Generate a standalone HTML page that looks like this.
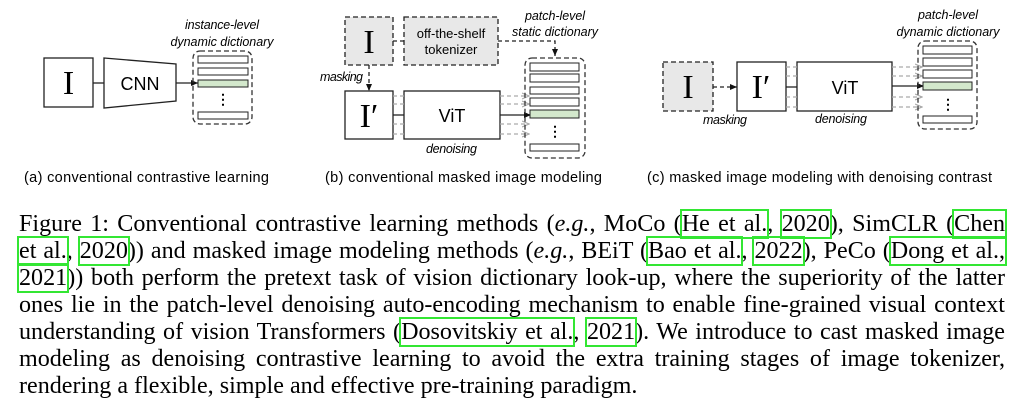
<!DOCTYPE html>
<html><head><meta charset="utf-8"><style>
html,body{margin:0;padding:0;background:#fff;width:1022px;height:412px;overflow:hidden;position:relative}
svg{position:absolute;left:0;top:0}
.cap{position:absolute;left:19px;width:986px;font-family:"Liberation Serif",serif;font-size:24.1px;line-height:27px;white-space:nowrap;text-align:justify;text-align-last:justify;color:#000}
.cap.last{text-align-last:left}
.c{outline:2px solid #33e633;outline-offset:0px}
</style></head><body>
<svg width="1022" height="200" font-family="Liberation Sans, sans-serif">
<defs>
<marker id="ab" markerWidth="8" markerHeight="8" refX="7" refY="4" orient="auto" markerUnits="userSpaceOnUse"><path d="M0,1 L7,4 L0,7 z" fill="#111"/></marker>
<marker id="ag" markerWidth="8" markerHeight="8" refX="7" refY="4" orient="auto" markerUnits="userSpaceOnUse"><path d="M0,1 L7,4 L0,7" fill="none" stroke="#aaa" stroke-width="1.2"/></marker>
</defs>
<g>
<rect x="44" y="58" width="49" height="49" fill="#fff" stroke="#222" stroke-width="1.3"/>
<text x="68.5" y="94" font-family="Liberation Serif, serif" font-size="34" text-anchor="middle">I</text>
<line x1="93" y1="83" x2="104" y2="83" stroke="#222" stroke-width="1.3"/>
<polygon points="104,58 176,64 176,101 104,108" fill="#fff" stroke="#222" stroke-width="1.3"/>
<text x="140" y="90" font-size="18" text-anchor="middle">CNN</text>
<line x1="176" y1="83" x2="198" y2="83" stroke="#222" stroke-width="1.3" marker-end="url(#ab)"/>
<rect x="193" y="51" width="59" height="73" rx="7" fill="none" stroke="#333" stroke-width="1.3" stroke-dasharray="5,3"/>
<rect x="198" y="56" width="50" height="7" fill="#fff" stroke="#222"/>
<rect x="198" y="68" width="50" height="7" fill="#fff" stroke="#222"/>
<rect x="198" y="80" width="50" height="7" fill="#d3e8cc" stroke="#222"/>
<text x="223" y="104" font-size="14" text-anchor="middle" font-weight="bold">&#8942;</text>
<rect x="198" y="112" width="50" height="7" fill="#fff" stroke="#222"/>
<text x="222" y="29" font-size="12.5" font-style="italic" text-anchor="middle" textLength="74">instance-level</text>
<text x="222" y="46" font-size="12.5" font-style="italic" text-anchor="middle" textLength="103">dynamic dictionary</text>
<text x="24" y="182" font-size="14.5" textLength="245">(a) conventional contrastive learning</text>
</g>
<g>
<rect x="345" y="17" width="48" height="48" fill="#e8e8e8" stroke="#222" stroke-width="1.3" stroke-dasharray="5,3"/>
<text x="369" y="53" font-family="Liberation Serif, serif" font-size="34" text-anchor="middle">I</text>
<rect x="404" y="17" width="94" height="48" fill="#e8e8e8" stroke="#222" stroke-width="1.3" stroke-dasharray="5,3"/>
<text x="451" y="38" font-size="13" text-anchor="middle">off-the-shelf</text>
<text x="451" y="54" font-size="13" text-anchor="middle">tokenizer</text>
<line x1="393" y1="41" x2="404" y2="41" stroke="#222" stroke-width="1.3" stroke-dasharray="4,3"/>
<polyline points="498,41 555,41 555,56" fill="none" stroke="#222" stroke-width="1.3" stroke-dasharray="4,3" marker-end="url(#ab)"/>
<line x1="369" y1="65" x2="369" y2="91" stroke="#222" stroke-width="1.3" stroke-dasharray="4,3" marker-end="url(#ab)"/>
<text x="320" y="81" font-size="12.5" font-style="italic" textLength="43">masking</text>
<rect x="345" y="91" width="48" height="48" fill="#fff" stroke="#222" stroke-width="1.3"/>
<text x="369" y="127" font-family="Liberation Serif, serif" font-size="34" text-anchor="middle">I′</text>
<rect x="404" y="91" width="96" height="48" fill="#fff" stroke="#222" stroke-width="1.3"/>
<text x="452" y="122" font-size="18" text-anchor="middle">ViT</text>
<line x1="393" y1="115" x2="404" y2="115" stroke="#222" stroke-width="1.3"/>
<g stroke="#aaa" stroke-width="1.2" stroke-dasharray="4,3">
<line x1="393" y1="96" x2="404" y2="96"/><line x1="393" y1="104" x2="404" y2="104"/><line x1="393" y1="124" x2="404" y2="124"/><line x1="393" y1="134" x2="404" y2="134"/>
<line x1="500" y1="96" x2="529" y2="96" marker-end="url(#ag)"/><line x1="500" y1="104" x2="529" y2="104" marker-end="url(#ag)"/><line x1="500" y1="124" x2="529" y2="124" marker-end="url(#ag)"/><line x1="500" y1="134" x2="529" y2="134" marker-end="url(#ag)"/>
</g>
<line x1="500" y1="115" x2="531" y2="115" stroke="#222" stroke-width="1.3" marker-end="url(#ab)"/>
<rect x="525" y="58" width="60" height="100" rx="7" fill="none" stroke="#333" stroke-width="1.3" stroke-dasharray="5,3"/>
<rect x="530" y="63" width="49" height="8" fill="#fff" stroke="#222"/>
<rect x="530" y="74" width="49" height="8" fill="#fff" stroke="#222"/>
<rect x="530" y="87" width="49" height="7" fill="#fff" stroke="#222"/>
<rect x="530" y="98" width="49" height="8" fill="#fff" stroke="#222"/>
<rect x="530" y="110" width="49" height="8" fill="#d3e8cc" stroke="#222"/>
<text x="555" y="136" font-size="14" text-anchor="middle" font-weight="bold">&#8942;</text>
<rect x="530" y="144" width="49" height="7" fill="#fff" stroke="#222"/>
<text x="555" y="20" font-size="12.5" font-style="italic" text-anchor="middle" textLength="60">patch-level</text>
<text x="555" y="36" font-size="12.5" font-style="italic" text-anchor="middle" textLength="86">static dictionary</text>
<text x="426" y="153" font-size="12.5" font-style="italic" textLength="51">denoising</text>
<text x="325" y="182" font-size="14.5" textLength="277">(b) conventional masked image modeling</text>
</g>
<g>
<rect x="663" y="62" width="50" height="49" fill="#e8e8e8" stroke="#222" stroke-width="1.3" stroke-dasharray="5,3"/>
<text x="688" y="98" font-family="Liberation Serif, serif" font-size="34" text-anchor="middle">I</text>
<line x1="713" y1="87" x2="737" y2="87" stroke="#222" stroke-width="1.3" stroke-dasharray="4,3" marker-end="url(#ab)"/>
<rect x="737" y="62" width="49" height="49" fill="#fff" stroke="#222" stroke-width="1.3"/>
<text x="761" y="98" font-family="Liberation Serif, serif" font-size="34" text-anchor="middle">I′</text>
<rect x="797" y="62" width="95" height="49" fill="#fff" stroke="#222" stroke-width="1.3"/>
<text x="845" y="94" font-size="18" text-anchor="middle">ViT</text>
<line x1="786" y1="87" x2="797" y2="87" stroke="#222" stroke-width="1.3"/>
<g stroke="#aaa" stroke-width="1.2" stroke-dasharray="4,3">
<line x1="786" y1="67" x2="797" y2="67"/><line x1="786" y1="76" x2="797" y2="76"/><line x1="786" y1="97" x2="797" y2="97"/><line x1="786" y1="107" x2="797" y2="107"/>
<line x1="892" y1="67" x2="922" y2="67" marker-end="url(#ag)"/><line x1="892" y1="76" x2="922" y2="76" marker-end="url(#ag)"/><line x1="892" y1="97" x2="922" y2="97" marker-end="url(#ag)"/><line x1="892" y1="107" x2="922" y2="107" marker-end="url(#ag)"/>
</g>
<line x1="892" y1="86" x2="924" y2="86" stroke="#222" stroke-width="1.3" marker-end="url(#ab)"/>
<rect x="918" y="41" width="59" height="88" rx="7" fill="none" stroke="#333" stroke-width="1.3" stroke-dasharray="5,3"/>
<rect x="923" y="46" width="49" height="8" fill="#fff" stroke="#222"/>
<rect x="923" y="58" width="49" height="8" fill="#fff" stroke="#222"/>
<rect x="923" y="70" width="49" height="8" fill="#fff" stroke="#222"/>
<rect x="923" y="82" width="49" height="8" fill="#d3e8cc" stroke="#222"/>
<text x="948" y="109" font-size="14" text-anchor="middle" font-weight="bold">&#8942;</text>
<rect x="923" y="116" width="49" height="7" fill="#fff" stroke="#222"/>
<text x="948" y="19" font-size="12.5" font-style="italic" text-anchor="middle" textLength="60">patch-level</text>
<text x="948" y="36" font-size="12.5" font-style="italic" text-anchor="middle" textLength="103">dynamic dictionary</text>
<text x="703" y="124" font-size="12.5" font-style="italic" textLength="44">masking</text>
<text x="815" y="123" font-size="12.5" font-style="italic" textLength="52">denoising</text>
<text x="647" y="182" font-size="14.5" textLength="345">(c) masked image modeling with denoising contrast</text>
</g>
</svg>
<div>
<div class="cap" style="top:211px">Figure 1: Conventional contrastive learning methods (<i>e.g.</i>, MoCo (<span class="c">He et al.</span>, <span class="c">2020</span>), SimCLR (<span class="c">Chen</span></div>
<div class="cap" style="top:238px"><span class="c">et al.</span>, <span class="c">2020</span>)) and masked image modeling methods (<i>e.g.</i>, BEiT (<span class="c">Bao et al.</span>, <span class="c">2022</span>), PeCo (<span class="c">Dong et al.,</span></div>
<div class="cap" style="top:265px"><span class="c">2021</span>)) both perform the pretext task of vision dictionary look-up, where the superiority of the latter</div>
<div class="cap" style="top:292px">ones lie in the patch-level denoising auto-encoding mechanism to enable fine-grained visual context</div>
<div class="cap" style="top:319px">understanding of vision Transformers (<span class="c">Dosovitskiy et al.</span>, <span class="c">2021</span>). We introduce to cast masked image</div>
<div class="cap" style="top:346px">modeling as denoising contrastive learning to avoid the extra training stages of image tokenizer,</div>
<div class="cap last" style="top:373px">rendering a flexible, simple and effective pre-training paradigm.</div>
</div>
</body></html>
